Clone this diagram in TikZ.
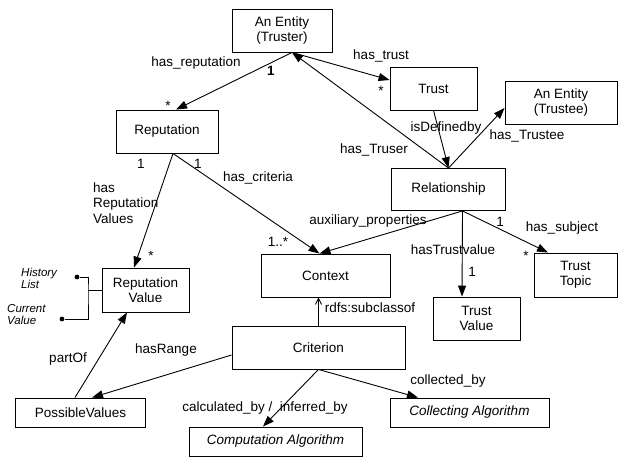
\documentclass[tikz,border=0pt]{standalone}
\usepackage{fontspec}
\setmainfont{Liberation Sans}
\usepackage{tikz}
\usetikzlibrary{arrows.meta,positioning}
\tikzset{
  entity/.style={draw,line width=0.9pt,align=center,inner sep=0pt},
  lbl/.style={inner sep=0pt},
  note/.style={inner sep=0pt,align=left,font=\fontsize{11.5}{12}\selectfont\itshape},
  dot/.style={circle,fill,inner sep=1.7pt},
  every node/.append style={font=\fontsize{13.5}{15.5}\selectfont}
}
\tikzstyle{arrow} = [line width=0.9pt,-{Triangle[length=11pt,width=8pt]}]
\tikzstyle{subarrow} = [line width=0.9pt,-{Straight Barb[length=6pt,width=6pt]}]

\begin{document}
\begin{tikzpicture}[x=1pt,y=-1pt]
  \useasboundingbox (0,0) rectangle (618,457);
  \node[entity,minimum width=100pt,minimum height=43pt] (truster) at (282,30.5) {An Entity\\(Truster)};
  \node[entity,minimum width=102pt,minimum height=43pt] (reputation) at (167,131.5) {Reputation};
  \node[entity,minimum width=87pt,minimum height=43pt] (trust) at (433.5,88.5) {Trust};
  \node[entity,minimum width=112pt,minimum height=43pt] (trustee) at (561,102.5) {An Entity\\(Trustee)};
  \node[entity,minimum width=114pt,minimum height=42pt] (relationship) at (448.5,189.5) {Relationship};
  \node[entity,minimum width=129pt,minimum height=43pt] (context) at (325.5,275.5) {Context};
  \node[entity,minimum width=87pt,minimum height=43pt] (trustvalue) at (476.5,318.5) {Trust\\Value};
  \node[entity,minimum width=83pt,minimum height=44pt] (trusttopic) at (575.5,275) {Trust\\Topic};
  \node[entity,minimum width=87pt,minimum height=44pt] (repvalue) at (145.5,290) {Reputation\\Value};
  \node[entity,minimum width=173pt,minimum height=43pt] (criterion) at (318.5,347.5) {Criterion};
  \node[entity,minimum width=130pt,minimum height=29pt] (possible) at (80.5,412.5) {PossibleValues};
  \node[entity,minimum width=173pt,minimum height=29pt] (computation) at (275.5,441.5) {\itshape Computation Algorithm};
  \node[entity,minimum width=159pt,minimum height=29pt] (collecting) at (469.5,412.5) {\itshape Collecting Algorithm};

  \draw[arrow] ([xshift=10pt]truster.south) -- ([xshift=9pt]reputation.north);
  \draw[arrow] ([xshift=10pt]truster.south) -- ([yshift=8.5pt]trust.west);
  \draw[arrow] (relationship.north) -- ([xshift=10pt]truster.south);
  \draw[arrow] (trust.south) -- (relationship.north);
  \draw[arrow] (relationship.north) -- ([yshift=-5.5pt]trustee.west);
  \draw[arrow] ([xshift=14pt]relationship.south) -- ([xshift=-6pt]context.north);
  \draw[arrow] ([xshift=14pt]relationship.south) -- ([xshift=-14.5pt]trustvalue.north);
  \draw[arrow] ([xshift=14pt]relationship.south) -- ([xshift=-27.5pt]trusttopic.north);
  \draw[arrow] ([xshift=6pt]reputation.south) -- ([xshift=-6pt]context.north);
  \draw[arrow] ([xshift=6pt]reputation.south) -- ([xshift=-11.5pt]repvalue.north);
  \draw[subarrow] (criterion.north) -- (criterion.north |- context.south);
  \draw[arrow] ([yshift=-7.5pt]criterion.west) -- ([xshift=11.5pt]possible.north);
  \draw[arrow] ([xshift=-5.5pt]possible.north) -- ([xshift=-18.5pt]repvalue.south);
  \draw[arrow] (criterion.south) -- ([xshift=-12.5pt]computation.north);
  \draw[arrow] (criterion.south) -- ([xshift=-51.5pt]collecting.north);

  \node[dot] (histdot) at (77,277) {};
  \node[dot] (currdot) at (62,319) {};
  \coordinate (brace) at (88,290);
  \draw[line width=0.9pt] (histdot) -| (brace) |- (currdot);
  \draw[line width=0.9pt] (brace) -- (repvalue.west |- brace);
  \node[note,anchor=west] (histlbl) at (21,278) {History\\List};
  \node[note,anchor=west] (currlbl) at (7,315) {Current\\Value};

  \node[lbl] (lrep) at (196,63) {has\_reputation};
  \node[lbl,font=\fontsize{13.5}{15.5}\selectfont\bfseries] (lrepone) at (271,71) {1};
  \node[lbl] (lrepstar) at (168,106) {*};
  \node[lbl] (ltrust) at (381,56) {has\_trust};
  \node[lbl] (ltruststar) at (381,91) {*};
  \node[lbl] (ldef) at (446,128) {isDefinedby};
  \node[lbl] (ltee) at (527,136) {has\_Trustee};
  \node[lbl] (ltruser) at (374,150) {has\_Truser};
  \node[lbl] (laux) at (368,221) {auxiliary\_properties};
  \node[lbl] (lauxmult) at (278,242) {1..*};
  \node[lbl] (lsubone) at (500,222) {1};
  \node[lbl] (lsub) at (562,228) {has\_subject};
  \node[lbl] (lsubstar) at (526,256) {*};
  \node[lbl] (ltv) at (453,250) {hasTrustvalue};
  \node[lbl] (ltvone) at (472,272) {1};
  \node[lbl] (lrvone) at (141,164) {1};
  \node[lbl] (lcritone) at (198,164) {1};
  \node[lbl] (lcrit) at (258,178) {has\_criteria};
  \node[lbl,align=left,anchor=west] (lhrv) at (93,203) {has\\Reputation\\Values};
  \node[lbl] (lrvstar) at (151,256) {*};
  \node[lbl] (lsubcl) at (370,308) {rdfs:subclassof};
  \node[lbl] (lrange) at (166,350) {hasRange};
  \node[lbl] (lpart) at (68,359) {partOf};
  \node[lbl] (lcalc) at (265,408) {calculated\_by / \ inferred\_by};
  \node[lbl] (lcoll) at (448,381) {collected\_by};
\end{tikzpicture}
\end{document}
